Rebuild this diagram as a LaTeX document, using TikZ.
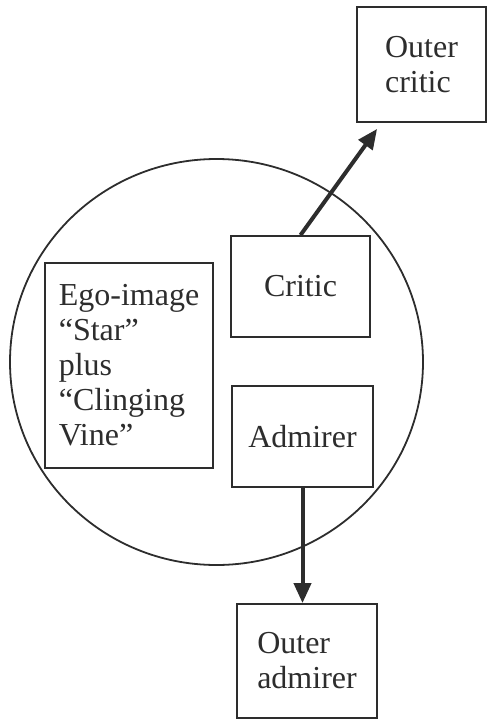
\documentclass[tikz,border=0pt]{standalone}
\usepackage{fontspec}
\setmainfont{Liberation Serif}
\usetikzlibrary{arrows.meta,shapes.geometric}
\definecolor{ink}{RGB}{45,45,45}
\begin{document}
\begin{tikzpicture}[x=1pt,y=-1pt,
  box/.style={draw=ink, line width=1.8pt, rectangle, align=left,
    font=\fontsize{32}{35}\selectfont, text=ink, inner sep=0pt},
  conn/.style={draw=ink, line width=4pt, -{Triangle[length=20pt,width=17pt]}}]
\useasboundingbox (0,0) rectangle (488,719);
\node (self) [draw=ink, line width=1.8pt, ellipse, inner sep=0pt,
  minimum width=413pt, minimum height=406pt] at (216.5,362) {};
\node (ocritic) [box, minimum width=129pt, minimum height=115pt] at (421.5,64.5) {Outer\\critic};
\node (critic) [box, minimum width=139pt, minimum height=101pt] at (300.5,286.5) {Critic};
\node (ego) [box, minimum width=168pt, minimum height=205pt] at (129,365.5)
  {Ego-image\\“Star”\\plus\\“Clinging\\Vine”};
\node (admirer) [box, minimum width=141pt, minimum height=101pt] at (302.5,436.5) {Admirer};
\node (oadmirer) [box, minimum width=140pt, minimum height=114pt] at (307,661) {Outer\\admirer};
\coordinate (ctip) at ([xshift=21pt,yshift=-6pt]ocritic.south west);
\draw[conn] (critic.north) -- (ctip);
\draw[conn] (admirer.south) -- (admirer.south |- oadmirer.north);
\end{tikzpicture}
\end{document}
